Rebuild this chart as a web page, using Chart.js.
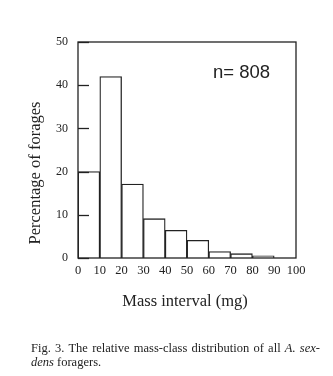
<!DOCTYPE html>
<html>
<head>
<meta charset="utf-8">
<script src="https://cdn.jsdelivr.net/npm/chart.js@4"></script>
<style>
  html, body { margin: 0; padding: 0; background: #fff; }
  #wrap { position: relative; width: 333px; height: 376px; overflow: hidden; }
  #c { position: absolute; left: 0; top: 0; }
  .cap { position: absolute; left: 31px; width: 289px; font-family: "Liberation Serif", "Times New Roman", serif; font-size: 12.5px; color: #222; white-space: nowrap; }
  #cap1 { top: 341px; text-align: justify; text-align-last: justify; white-space: normal; }
  #cap2 { top: 355px; }
</style>
</head>
<body>
<div id="wrap">
  <canvas id="c" width="333" height="376"></canvas>
  <div class="cap" id="cap1">Fig. 3. The relative mass-class distribution of all <i>A. sex-</i></div>
  <div class="cap" id="cap2"><i>dens</i> foragers.</div>
</div>
<script>
// Mass classes (mg): bin start, bin end
const binStarts = [0, 10, 20, 30, 40, 50, 60, 70, 80, 90];
const binWidth = 10;
// Percentage of forages in each mass class
const percentages = [20.0, 42.0, 17.1, 9.1, 6.4, 4.1, 1.5, 1.0, 0.5, 0.0];
const xTicks = [0, 10, 20, 30, 40, 50, 60, 70, 80, 90, 100];
const yTicks = [0, 10, 20, 30, 40, 50];
const sampleLabel = "n= 808";
const xTitle = "Mass interval (mg)";
const yTitle = "Percentage of forages";

const ink = "#222";
const serif = '"Liberation Serif", "Times New Roman", serif';

const points = binStarts.map((s, i) => ({ x: s + binWidth / 2, y: percentages[i] }));

const decor = {
  id: 'decor',
  afterDraw(chart) {
    const { ctx, chartArea: a, scales } = chart;
    ctx.save();
    ctx.strokeStyle = ink;
    ctx.lineWidth = 1.3;
    // frame
    ctx.strokeRect(a.left, a.top, a.right - a.left, a.bottom - a.top);
    // inward y ticks
    yTicks.forEach(v => {
      const y = Math.round(scales.y.getPixelForValue(v)) + 0.5;
      ctx.beginPath();
      ctx.moveTo(a.left, y);
      ctx.lineTo(a.left + 11, y);
      ctx.stroke();
    });
    // sample size text
    ctx.fillStyle = ink;
    ctx.font = '18.5px "Liberation Sans", Arial, sans-serif';
    ctx.textAlign = 'left';
    ctx.textBaseline = 'alphabetic';
    ctx.fillText(sampleLabel, 213, 78);
    // axis titles
    ctx.font = '16.5px ' + serif;
    ctx.textAlign = 'center';
    ctx.fillText(xTitle, 185, 306);
    ctx.translate(40, 173);
    ctx.rotate(-Math.PI / 2);
    ctx.fillText(yTitle, 0, 0);
    ctx.restore();
  }
};

new Chart(document.getElementById('c'), {
  type: 'bar',
  data: {
    datasets: [{
      data: points,
      backgroundColor: '#fff',
      borderColor: ink,
      borderWidth: 1.3,
      barPercentage: 1,
      categoryPercentage: 1
    }]
  },
  options: {
    responsive: false,
    animation: false,
    devicePixelRatio: 1,
    layout: { padding: { top: 42, right: 37, bottom: 78, left: 0 } },
    plugins: { legend: { display: false }, tooltip: { enabled: false } },
    scales: {
      x: {
        type: 'linear',
        min: 0, max: 100,
        offset: false,
        afterFit: s => { s.height = 40; },
        afterBuildTicks: s => { s.ticks = xTicks.map(v => ({ value: v })); },
        grid: { display: false, drawTicks: false, offset: false },
        border: { display: false },
        ticks: { color: ink, padding: 5, font: { family: serif, size: 12.5 }, maxRotation: 0, autoSkip: false }
      },
      y: {
        min: 0, max: 50,
        afterFit: s => { s.width = 78; },
        afterBuildTicks: s => { s.ticks = yTicks.map(v => ({ value: v })); },
        grid: { display: false, drawTicks: false },
        border: { display: false },
        ticks: { color: ink, padding: 10, font: { family: serif, size: 12 } }
      }
    }
  },
  plugins: [decor]
});
</script>
</body>
</html>
